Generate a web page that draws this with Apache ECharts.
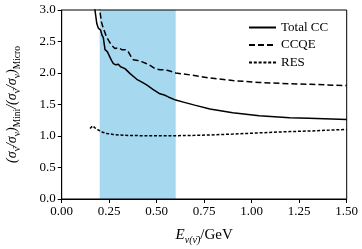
<!DOCTYPE html>
<html><head><meta charset="utf-8">
<script src="https://cdn.jsdelivr.net/npm/echarts@6/dist/echarts.min.js"></script>
<style>html,body{margin:0;padding:0;background:#fff}#c{width:362px;height:249px}</style>
</head><body><div id="c"></div>
<script>
const xTicks = [0, 0.25, 0.5, 0.75, 1.0, 1.25, 1.5];
const yTicks = [0, 0.5, 1.0, 1.5, 2.0, 2.5, 3.0];
const bandRange = [0.2, 0.6];

const totalE = [0.165,0.175,0.185,0.193,0.205,0.212,0.219,0.228,0.24,0.25,0.262,0.272,0.285,0.298,0.31,0.333,0.36,0.395,0.42,0.447,0.48,0.517,0.54,0.561,0.6,0.65,0.7,0.78,0.9,1.04,1.2,1.3,1.5];
const totalR = [3.2,3.0,2.78,2.71,2.68,2.6,2.56,2.37,2.34,2.31,2.2,2.15,2.13,2.14,2.1,2.07,1.99,1.9,1.86,1.81,1.74,1.67,1.65,1.62,1.57,1.53,1.49,1.43,1.37,1.32,1.29,1.28,1.26];

const ccqeE = [0.195,0.2,0.21,0.219,0.235,0.25,0.263,0.28,0.3,0.316,0.335,0.35,0.365,0.377,0.4,0.42,0.445,0.465,0.49,0.517,0.54,0.56,0.6,0.675,0.78,0.9,1.04,1.2,1.31,1.5];
const ccqeR = [3.1,3.0,2.8,2.71,2.58,2.5,2.44,2.39,2.4,2.37,2.37,2.34,2.26,2.21,2.2,2.18,2.15,2.12,2.07,2.05,2.05,2.04,2.0,1.97,1.92,1.88,1.85,1.83,1.82,1.80];

const resE = [0.149,0.163,0.175,0.193,0.215,0.237,0.27,0.307,0.35,0.43,0.5,0.6,0.7,0.78,0.9,1.04,1.2,1.31,1.5];
const resR = [1.12,1.16,1.13,1.095,1.06,1.04,1.025,1.015,1.008,1.005,1.005,1.005,1.01,1.016,1.03,1.05,1.07,1.08,1.105];

const names = ['Total CC','CCQE','RES'];
const zip = (a,b)=>a.map((v,i)=>[v,b[i]]);
const font = '"Liberation Serif", "DejaVu Serif", serif';

const chart = echarts.init(document.getElementById('c'), null, {renderer:'canvas'});
const lineBase = (name, data, type, extra) => Object.assign({
  name, type:'line', data, symbol:'none', showSymbol:false, clip:true,
  lineStyle:{color:'#000', width:1.5, type}, itemStyle:{color:'#000'}, z:3
}, extra||{});

chart.setOption({
  animation:false,
  grid:{left:61.7, right:15.3, top:10, bottom:50, show:true, borderColor:'#000', borderWidth:1,
        backgroundColor:'transparent', z:5, containLabel:false, outerBoundsMode:'none'},
  legend:{
    orient:'vertical', left:243, top:16, itemWidth:27, itemHeight:12, itemGap:4.5,
    textStyle:{fontFamily:font, fontSize:13, color:'#000'},
    itemStyle:{opacity:0},
    data: names,
    selectedMode:false
  },
  xAxis:{
    type:'value', min:xTicks[0], max:xTicks[xTicks.length-1], interval:0.25,
    axisLine:{lineStyle:{color:'#000', width:1}},
    axisTick:{show:true, length:4, lineStyle:{color:'#000'}},
    splitLine:{show:false},
    axisLabel:{fontFamily:font, fontSize:13, color:'#000', margin:6, formatter:v=>v.toFixed(2)},
    name:'{it|E}{sub|ν(ν̄)}{n|/GeV}', nameLocation:'middle', nameGap:26,
    nameTextStyle:{fontFamily:font, color:'#000', rich:{
      it:{fontFamily:font, fontStyle:'italic', fontSize:15, lineHeight:20, verticalAlign:'middle'},
      sub:{fontFamily:font, fontStyle:'italic', fontSize:10, lineHeight:10, verticalAlign:'bottom'},
      n:{fontFamily:font, fontSize:15, lineHeight:20, verticalAlign:'middle'}
    }}
  },
  yAxis:{
    type:'value', min:yTicks[0], max:yTicks[yTicks.length-1], interval:0.5,
    axisLine:{lineStyle:{color:'#000', width:1}},
    axisTick:{show:true, length:4, lineStyle:{color:'#000'}},
    splitLine:{show:false},
    axisLabel:{fontFamily:font, fontSize:13, color:'#000', margin:6, formatter:v=>v.toFixed(1)},
    name:'{n|(σ}{sub|ν̄}{n|/σ}{sub|ν}{n|)}{sub|Mini}{n|/(σ}{sub|ν̄}{n|/σ}{sub|ν}{n|)}{sub|Micro}',
    nameLocation:'middle', nameGap:39, nameRotate:90,
    nameTextStyle:{fontFamily:font, color:'#000', rich:{
      n:{fontFamily:font, fontStyle:'italic', fontSize:14, lineHeight:20, verticalAlign:'middle'},
      sub:{fontFamily:font, fontSize:9.5, lineHeight:10, verticalAlign:'bottom'}
    }}
  },
  series:[
    lineBase(names[0], zip(totalE,totalR), 'solid', {
      markArea:{silent:true, itemStyle:{color:'#a6d9f0'}, data:[[{xAxis:bandRange[0]},{xAxis:bandRange[1]}]], z:1}
    }),
    lineBase(names[1], zip(ccqeE,ccqeR), [6,3]),
    lineBase(names[2], zip(resE,resR), [3,1.8])
  ]
});
</script></body></html>
